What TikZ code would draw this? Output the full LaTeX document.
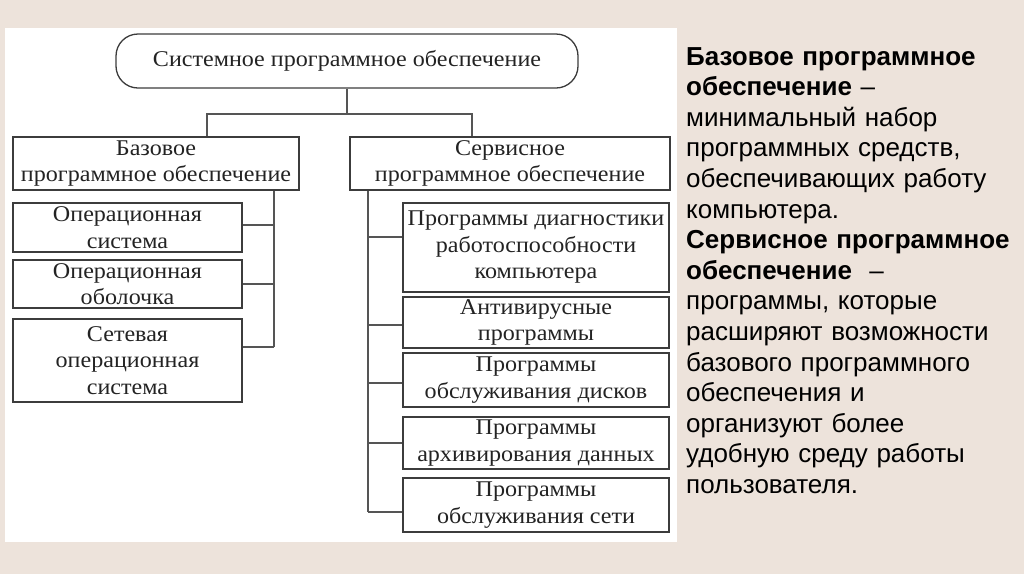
\documentclass[tikz,border=0pt]{standalone}
\usepackage{fontspec}
\setmainfont{Liberation Serif}[FakeStretch=1.07]
\newfontfamily\sidefont{Liberation Sans}
\usetikzlibrary{positioning}
\definecolor{bgbeige}{RGB}{237,227,219}
\definecolor{boxline}{RGB}{60,60,60}
\definecolor{conline}{RGB}{85,85,85}
\definecolor{diagtext}{RGB}{35,35,35}
\begin{document}
\begin{tikzpicture}[x=1pt,y=-1pt,
  box/.style={draw=boxline, line width=1.3pt, rectangle, inner sep=0pt, align=center,
    text=diagtext, font=\fontsize{22.5}{26.5}\selectfont},
  conn/.style={draw=conline, line width=1.3pt}]
\useasboundingbox (0,0) rectangle (1024,574);
\fill[bgbeige] (0,0) rectangle (1024,574);
\fill[white] (5,28) rectangle (677,542);

% top
\node[box, rounded corners=22pt, minimum width=462pt, minimum height=54pt] (sys) at (347,61) {Системное программное обеспечение};
\node[box, minimum width=286pt, minimum height=53pt] (base) at (156,163.5) {Базовое\\программное обеспечение};
\node[box, minimum width=320pt, minimum height=53pt] (serv) at (510,163.5) {Сервисное\\программное обеспечение};

% left children
\node[box, minimum width=229pt, minimum height=49pt] (l1) at (127.5,227.5) {Операционная\\система};
\node[box, minimum width=229pt, minimum height=48pt] (l2) at (127.5,284) {Операционная\\оболочка};
\node[box, minimum width=229pt, minimum height=83pt] (l3) at (127.5,360.5) {Сетевая\\операционная\\система};

% right children
\node[box, minimum width=266pt, minimum height=89pt] (r1) at (536,247.5) {Программы диагностики\\работоспособности\\компьютера};
\node[box, minimum width=266pt, minimum height=51pt] (r2) at (536,322.5) {Антивирусные\\программы};
\node[box, minimum width=266pt, minimum height=54pt] (r3) at (536,380) {Программы\\обслуживания дисков};
\node[box, minimum width=266pt, minimum height=52pt] (r4) at (536,443) {Программы\\архивирования данных};
\node[box, minimum width=266pt, minimum height=54pt] (r5) at (536,505) {Программы\\обслуживания сети};

% top connectors
\coordinate (split) at (sys.south |- 0,114);
\coordinate (splitl) at (base.north -| 207,0);
\coordinate (splitr) at (serv.north -| 472,0);
\draw[conn] (sys.south) -- (split);
\draw[conn] (splitl) |- (split) -| (splitr);

% left trunk
\coordinate (lt0) at (base.south -| 274,0);
\coordinate (lt1) at (274,225);
\coordinate (lt2) at (274,284);
\coordinate (lt3) at (274,347);
\draw[conn] (lt0) -- (lt3);
\draw[conn] (lt1) -- (lt1 -| l1.east);
\draw[conn] (lt2) -- (lt2 -| l2.east);
\draw[conn] (lt3) -- (lt3 -| l3.east);

% right trunk
\coordinate (rt0) at (serv.south -| 368,0);
\coordinate (rt1) at (368,237);
\coordinate (rt2) at (368,325);
\coordinate (rt3) at (368,383);
\coordinate (rt4) at (368,443);
\coordinate (rt5) at (368,512);
\draw[conn] (rt0) -- (rt5);
\draw[conn] (rt1) -- (rt1 -| r1.west);
\draw[conn] (rt2) -- (rt2 -| r2.west);
\draw[conn] (rt3) -- (rt3 -| r3.west);
\draw[conn] (rt4) -- (rt4 -| r4.west);
\draw[conn] (rt5) -- (rt5 -| r5.west);

% side text
\node[anchor=north west, inner sep=0pt, text width=336pt, align=left, text=black,
  font=\sidefont\fontsize{26}{30.6}\selectfont] (side) at (686,47)
{\textbf{Базовое программное обеспечение} –\\
минимальный набор\\
программных средств,\\
обеспечивающих работу\\
компьютера.\\
\textbf{Сервисное программное обеспечение}~~–\\
программы, которые\\
расширяют возможности\\
базового программного\\
обеспечения и\\
организуют более\\
удобную среду работы\\
пользователя.};
\end{tikzpicture}
\end{document}
